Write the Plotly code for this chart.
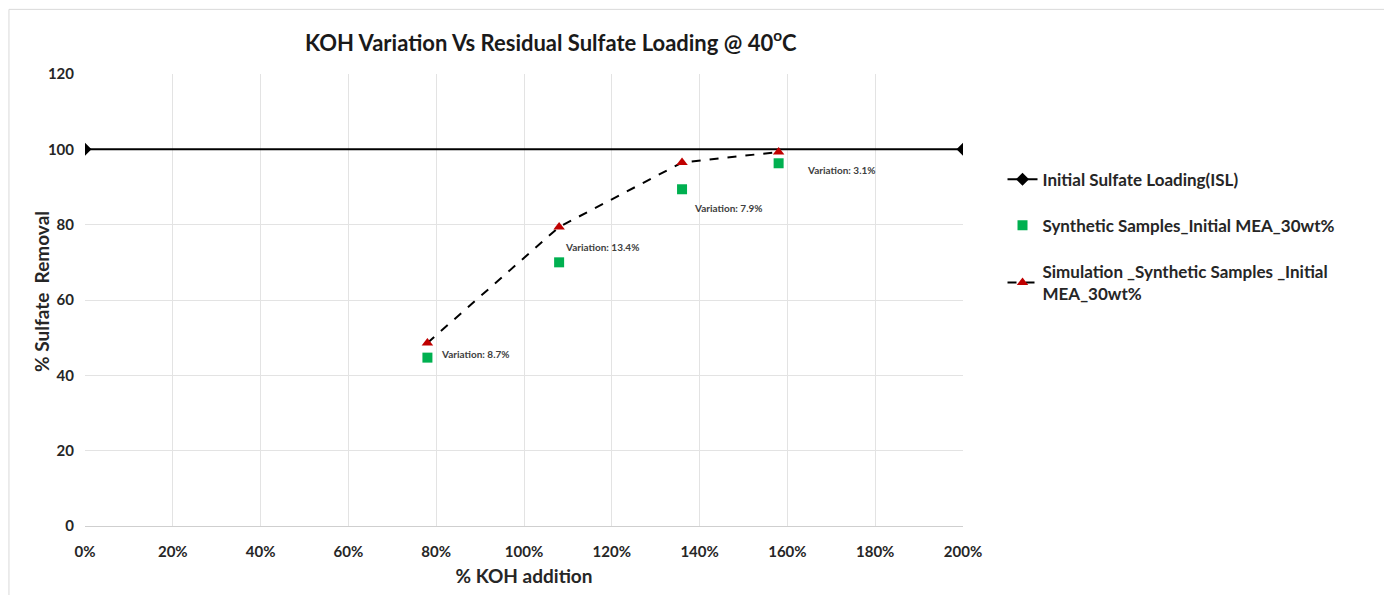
import plotly.graph_objects as go

# KOH addition (fraction of stoichiometric) and sulfate removal values
koh_isl = [0.0, 2.0]
isl_values = [100, 100]

koh_samples = [0.78, 1.08, 1.36, 1.58]
synthetic_removal = [44.7, 70.0, 89.4, 96.3]
simulation_removal = [48.6, 79.4, 96.5, 99.3]
variation_labels = ["Variation: 8.7%", "Variation: 13.4%", "Variation: 7.9%", "Variation: 3.1%"]
label_shifts = [(12, 4), (4, 15), (10, -19), (26, -7)]

FONT = "Lato"
TEXT_COLOR = "#262626"

fig = go.Figure()

fig.add_trace(go.Scatter(
    x=koh_isl, y=isl_values, mode="lines+markers",
    name="Initial Sulfate Loading(ISL)",
    line=dict(color="black", width=2),
    marker=dict(symbol="diamond", size=10, color="black"),
    legendgroup="a",
))
fig.add_trace(go.Scatter(
    x=koh_samples, y=synthetic_removal, mode="markers",
    name="Synthetic Samples_Initial MEA_30wt%",
    marker=dict(symbol="square", size=10, color="#00b050"),
    legendgroup="b",
))
fig.add_trace(go.Scatter(
    x=koh_samples, y=simulation_removal, mode="lines+markers",
    name="Simulation _Synthetic Samples _Initial<br>MEA_30wt%",
    line=dict(color="black", width=2, dash="dash"),
    marker=dict(symbol="triangle-up", size=10, color="#c00000"),
    legendgroup="c",
))

for x, y, txt, (dx, dy) in zip(koh_samples, synthetic_removal, variation_labels, label_shifts):
    fig.add_annotation(
        x=x, y=y, text=f"<b>{txt}</b>", showarrow=False,
        xanchor="left", yanchor="middle", xshift=dx, yshift=dy,
        font=dict(family=FONT, size=10, color="#404040"),
    )

# Y axis title placed as a rotated annotation
fig.add_annotation(
    x=-0.049, y=0.52, xref="paper", yref="paper",
    text="<b>% Sulfate  Removal</b>", textangle=-90, showarrow=False,
    xanchor="center", yanchor="middle",
    font=dict(family=FONT, size=19, color=TEXT_COLOR),
)

# Outer chart border
fig.add_shape(type="rect", xref="paper", yref="paper",
              x0=-0.0866, x1=1.6, y0=-0.3, y1=1.143,
              line=dict(color="#d9d9d9", width=1), fillcolor="rgba(0,0,0,0)",
              layer="below")

fig.update_layout(
    width=1384, height=595,
    margin=dict(l=85, r=421, t=74, b=67),
    paper_bgcolor="white", plot_bgcolor="white",
    font=dict(family=FONT, color=TEXT_COLOR),
    title=dict(
        text="<b>KOH Variation Vs Residual Sulfate Loading @ 40<sup>o</sup>C</b>",
        x=0.398, xref="container", xanchor="center",
        y=0.928, yref="container", yanchor="middle",
        font=dict(family=FONT, size=22, color="#1a1a1a"),
    ),
    xaxis=dict(
        range=[0, 2], dtick=0.2, tick0=0, tickformat=".0%",
        showgrid=True, gridcolor="#e3e3e3", gridwidth=1,
        zeroline=False, showline=True, linecolor="#cfcfcf", linewidth=1,
        ticks="", ticklabelstandoff=12,
        tickfont=dict(family=FONT, size=15, color=TEXT_COLOR, weight="bold"),
        title=dict(text="<b>% KOH addition</b>", standoff=10,
                   font=dict(family=FONT, size=19, color=TEXT_COLOR)),
    ),
    yaxis=dict(
        range=[0, 120], dtick=20,
        showgrid=True, gridcolor="#e3e3e3", gridwidth=1,
        zeroline=False, showline=False,
        ticks="", ticklabelstandoff=10,
        tickfont=dict(family=FONT, size=15, color=TEXT_COLOR, weight="bold"),
    ),
    legend=dict(
        x=1.045, xanchor="left", y=0.806, yanchor="top",
        font=dict(family=FONT, size=17, color=TEXT_COLOR, weight="bold"),
        tracegroupgap=21, bgcolor="rgba(0,0,0,0)",
        itemwidth=30,
    ),
)

fig.write_html("out.html")
